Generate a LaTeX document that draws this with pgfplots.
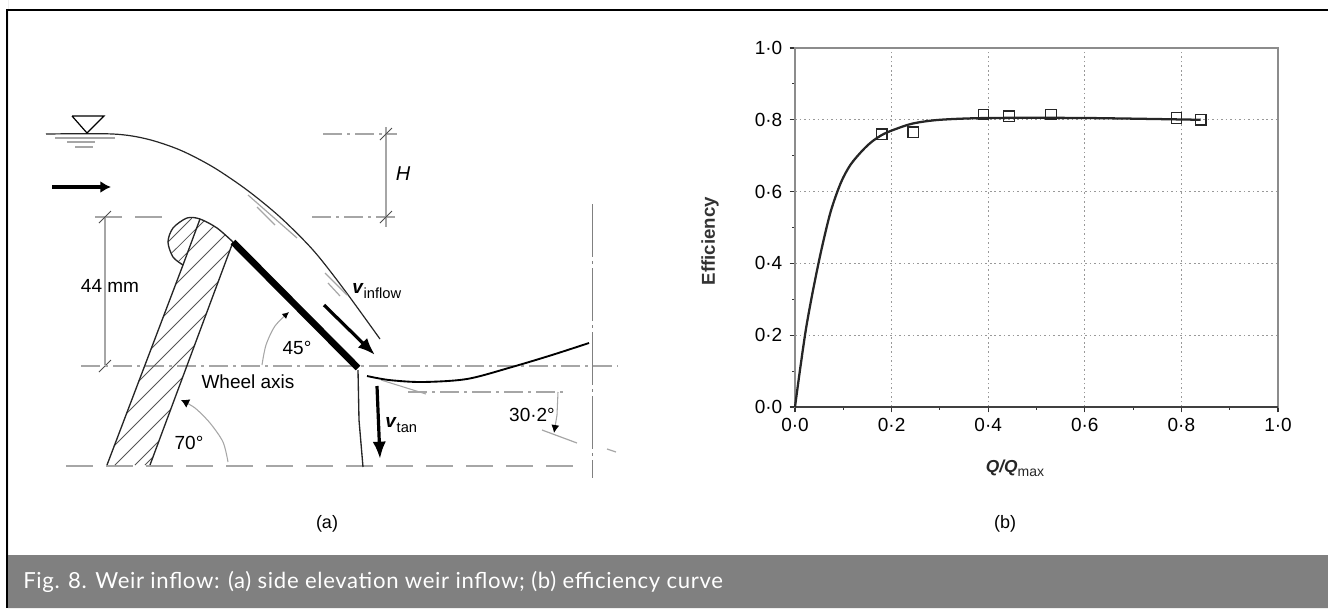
\documentclass[border=0pt]{standalone}
\usepackage{fontspec}
\setmainfont{Liberation Sans}
\newfontfamily\capfont[LetterSpace=3]{Lato}
\usepackage{pgfplots}
\pgfplotsset{compat=1.18}
\definecolor{dimgray}{HTML}{A6A6A6}
\definecolor{bannergray}{HTML}{808080}
\definecolor{hatchgray}{HTML}{555555}
\definecolor{frameg}{HTML}{8C8C8C}
\tikzset{
 dimline/.style={dimgray,line width=0.9pt},
 dashdot/.style={dimgray,line width=1pt,dash pattern=on 14pt off 4pt on 2pt off 4pt},
 dashed2/.style={dimgray,line width=1pt,dash pattern=on 20pt off 10pt},
 ink/.style={black!85,line width=1pt},
 hatch/.style={hatchgray,line width=0.55pt},
 bigarrow/.style={black,line width=2.4pt,-{Latex[length=13pt,width=10pt]}},
 lab/.style={font=\fontsize{14.25}{16}\selectfont,text=black,inner sep=0pt}
}
\usetikzlibrary{arrows.meta}
\begin{document}
\begin{tikzpicture}
\path[use as bounding box] (0,0) rectangle (996pt,456pt);
\begin{axis}[at={(0,0)},anchor=south west,scale only axis,width=996pt,height=456pt,
 xmin=0,xmax=1328,ymin=0,ymax=608,y dir=reverse,hide axis,clip=false]
% frame and banner
\addplot[fill=bannergray,draw=none] coordinates {(8,555)(1328,555)(1328,608)(8,608)} \closedcycle;
\addplot[black,line width=1.8pt] coordinates {(7,608)(7,10)(1328,10)};
% water surface
\addplot[ink,smooth,line width=0.9pt] coordinates {(46,134)(113,134)(147,139)(180,150)(213,167)(247,190)(280,217)(313,250)(343,288)(380,339)};
\addplot[black,line width=0.9pt] coordinates {(72,116)(104,116)(87,133)(72,116)};
\addplot[dimline] coordinates {(55,138)(115,138)};
\addplot[dimline] coordinates {(67,142)(95,142)};
\addplot[dimline] coordinates {(75,147)(93,147)};
\addplot[dimline] coordinates {(248,195)(297,238)};
\addplot[dimline] coordinates {(257,207)(275,225)};
\addplot[dimline] coordinates {(325,273)(347,295)};
\addplot[dimline] coordinates {(328,283)(340,296)};
% dimension lines
\addplot[dashdot] coordinates {(323,134)(397,134)};
\addplot[dashdot] coordinates {(312,217)(397,217)};
\addplot[dimline] coordinates {(386,127)(386,227)};
\addplot[black!70,line width=0.7pt] coordinates {(380,140)(392,128)};
\addplot[black!70,line width=0.7pt] coordinates {(380,223)(392,211)};
\addplot[dashed2] coordinates {(95,217)(163,217)};
\addplot[dimline] coordinates {(105,217)(105,365)};
\addplot[black!70,line width=0.7pt] coordinates {(99,223)(111,211)};
\addplot[black!70,line width=0.7pt] coordinates {(99,372)(111,360)};
\addplot[dashdot] coordinates {(81,366)(618,366)};
\addplot[dashed2] coordinates {(66,466)(573,466)};
\addplot[black!50,line width=0.7pt,dash pattern=on 40pt off 3pt on 2pt off 3pt] coordinates {(592,204)(592,478)};
\addplot[dashdot] coordinates {(408,392)(565,392)};
\addplot[dimgray,line width=0.8pt] coordinates {(381,380)(426,394)};
\addplot[dimgray,line width=0.9pt] coordinates {(542,430)(577,443)};
\addplot[dimgray,line width=0.9pt] coordinates {(607,449)(616,452)};
% hatching
\addplot[hatch] coordinates {(145,465)(153,457)};
\addplot[hatch] coordinates {(135,465)(159,441)};
\addplot[hatch] coordinates {(115,465)(170.8,409.2)};
\addplot[hatch] coordinates {(114,446)(182.6,377.4)};
\addplot[hatch] coordinates {(126.6,413.4)(194.5,345.5)};
\addplot[hatch] coordinates {(139,381)(206.3,313.7)};
\addplot[hatch] coordinates {(151.1,348.9)(218.2,281.8)};
\addplot[hatch] coordinates {(163.4,316.6)(230,250)};
\addplot[hatch] coordinates {(175.6,284.4)(225,235)};
\addplot[hatch] coordinates {(187.7,252.3)(213.7,226.3)};
\addplot[hatch] coordinates {(196.5,228.5)(204,221)};
\addplot[hatch] coordinates {(171.7,253)(196.5,228.5)};
\addplot[hatch] coordinates {(168,242)(191.8,218.2)};
\addplot[hatch] coordinates {(178.5,261.4)(187.7,252.3)};
% pier
\addplot[ink] coordinates {(107,465)(183,265)};
\addplot[ink] coordinates {(150,465)(233,242)};
\addplot[ink] coordinates {(183,265)(200,219)};
\addplot[ink,smooth] coordinates {(183,265)(173,257)(168,242)(173,228)(187,218)(200,219)(217,228)(233,242)};
% plate
\addplot[black,line width=5pt] coordinates {(233,242)(358,368)};
\addplot[ink] coordinates {(358,370)(359,420)(363,467)};
% outflow
\addplot[black,line width=1.4pt,smooth] coordinates {(367,376)(389,380)(422,382)(467,379)(512,367)(552,355)(589,343)};
% velocity arrows
\addplot[bigarrow] coordinates {(324,305)(375,355)};
\addplot[bigarrow] coordinates {(377,386)(380,459)};
\addplot[black,line width=2.4pt,-{Latex[length=8pt,width=9pt]}] coordinates {(52,187)(111,187)};
% angle arcs
\addplot[dimgray,line width=0.8pt,smooth,-{Latex[length=5pt,width=5pt,black]}] coordinates {(262,365)(266,345)(275,326)(289,312)};
\addplot[dimgray,line width=0.8pt,smooth,-{Latex[length=6pt,width=7pt,black]}] coordinates {(228,462)(223,442)(210,423)(195,408)(181,400)};
\addplot[dimgray,line width=0.8pt,-{Latex[length=6pt,width=6pt,black]}] coordinates {(558,392)(557,415)(554,433)};
% labels
\node[lab] at (axis cs:110,286) {44 mm};
\node[lab] at (axis cs:403,174) {\fontsize{15}{16}\selectfont\textit{H}};
\node[lab] at (axis cs:297,348) {45°};
\node[lab] at (axis cs:248,382) {Wheel axis};
\node[lab] at (axis cs:189,443) {70°};
\node[lab] at (axis cs:532,415) {30·2°};
\node[lab,anchor=base west] at (axis cs:352,293) {\textbf{\textit{v}}\raisebox{-4pt}{\fontsize{11}{12}\selectfont inflow}};
\node[lab,anchor=base west] at (axis cs:385,427) {\textbf{\textit{v}}\raisebox{-4pt}{\fontsize{11}{12}\selectfont tan}};
\node[font=\fontsize{13.5}{16}\selectfont,inner sep=0pt] at (axis cs:327,524) {(a)};
\node[font=\fontsize{13.5}{16}\selectfont,inner sep=0pt] at (axis cs:1005,524) {(b)};
\node[anchor=west,inner sep=0pt,text=white,font=\capfont\fontsize{16.6}{18}\selectfont] at (axis cs:23,582) {Fig. 8. Weir inflow: (a) side elevation weir inflow; (b) efficiency curve};
\node[rotate=90,inner sep=0pt,font=\fontsize{14}{16}\selectfont\bfseries,text=black!80] at (axis cs:710,241) {Efficiency};
\node[inner sep=0pt,font=\fontsize{13}{14}\selectfont,text=black!85] at (axis cs:1015,468) {\textbf{\textit{Q/Q}}\raisebox{-3pt}{\fontsize{10.5}{11}\selectfont max}};
\end{axis}
\begin{axis}[at={(596.25pt,150.75pt)},anchor=south west,scale only axis,
 width=362.25pt,height=269.25pt,xmin=0,xmax=1,ymin=0,ymax=1,
 axis line style={frameg,line width=2.2pt},
 grid=major,grid style={black!40,line width=0.8pt,dash pattern=on 1.2pt off 2.2pt},
 xtick={0,0.2,0.4,0.6,0.8,1},ytick={0,0.2,0.4,0.6,0.8,1},
 xticklabels={0·0,0·2,0·4,0·6,0·8,1·0},yticklabels={0·0,0·2,0·4,0·6,0·8,1·0},
 minor xtick={0.1,0.3,0.5,0.7,0.9},minor ytick={0.1,0.3,0.5,0.7,0.9},
 tick style={black!80,line width=0.8pt},
 major tick length=4pt,minor tick length=2pt,
 tick align=outside,xtick pos=bottom,ytick pos=left,
 ticklabel style={font=\fontsize{14.25}{16}\selectfont,text=black},
 yticklabel style={xshift=-2pt},xticklabel style={yshift=-1pt},
 clip=false]
\addplot[black!75,line width=1.6pt] coordinates {(0,0)(1,0)};
\addplot[black!85,line width=1.7pt,smooth,tension=0.5] coordinates {(0,0)(0.01,0.10)(0.023,0.22)(0.038,0.33)(0.055,0.44)(0.074,0.545)(0.095,0.625)(0.115,0.675)(0.14,0.715)(0.16,0.74)(0.183,0.76)(0.21,0.775)(0.245,0.79)(0.3,0.8)(0.4,0.805)(0.6,0.805)(0.84,0.80)};
\addplot[only marks,mark=square,mark size=3.9pt,mark options={black!85,line width=1pt,fill=none}] coordinates {(0.18,0.76)(0.245,0.765)(0.39,0.815)(0.443,0.81)(0.53,0.815)(0.79,0.805)(0.84,0.80)};
\end{axis}
\end{tikzpicture}
\end{document}
